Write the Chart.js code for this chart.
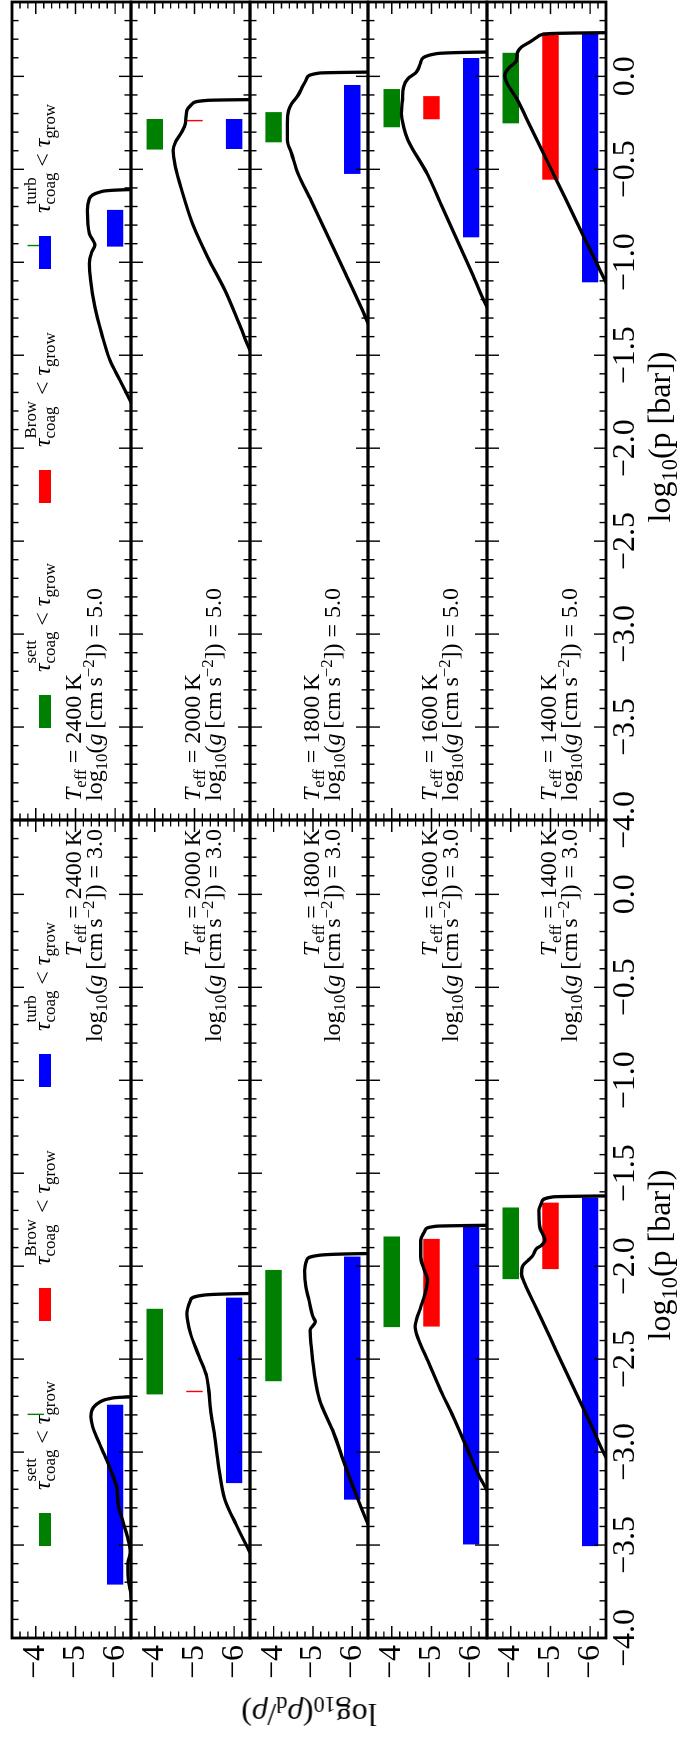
<!DOCTYPE html>
<html>
<head>
<meta charset="utf-8">
<title>Coagulation regimes</title>
<script src="https://cdn.jsdelivr.net/npm/chart.js@4.4.1/dist/chart.umd.min.js"></script>
<style>
html, body { margin:0; padding:0; background:#fff; }
body { width:678px; height:1738px; overflow:hidden; position:relative; }
#fig { position:absolute; left:0; top:0; width:1738px; height:678px; transform-origin:0 0;
       transform:translate(0px,1738px) rotate(-90deg);
       font-family:"Liberation Serif","Times New Roman",serif; color:#000; }
#fig canvas { position:absolute; }
.txt { position:absolute; white-space:nowrap; }
.txt sub, .txt sup { font-size:70%; line-height:0; position:relative; vertical-align:baseline; }
.txt sub { top:0.32em; }
.txt sup { top:-0.48em; }
.ann { font-size:24px; line-height:21px; }
.ann.r { text-align:right; }
.leg { font-size:24px; line-height:50px; }
.st { display:inline-block; vertical-align:-0.3em; font-size:70%; line-height:1.15; }
.st span { display:block; }
.patch { position:absolute; }
.xt, .yt { font-size:32px; line-height:32px; }
</style>
</head>
<body>
<div id="fig"></div>
<script>
// ---------------- data ----------------
const temperatures = [2400, 2000, 1800, 1600, 1400];
const gravities = [3.0, 5.0];
const xTickValues = [-4.0, -3.5, -3.0, -2.5, -2.0, -1.5, -1.0, -0.5, 0.0];
const yTickValues = [-4, -5, -6];
const barLevels = [-4, -5, -6];            // sett, Brow, turb
const barNames = ['sett', 'Brow', 'turb'];

// log g = 3.0 : dust-to-gas curves (log p, log rho_d/rho)
const p_g3_T2400 = [-3.85,-3.80,-3.75,-3.70,-3.65,-3.60,-3.54,-3.473,-3.383,-3.27,-3.20,-3.16,-3.043,-2.918,-2.86,-2.81,-2.76,-2.730,-2.712,-2.703,-2.700];
const r_g3_T2400 = [-6.50,-6.42,-6.39,-6.34,-6.32,-6.32,-6.38,-6.33,-6.21,-6.07,-6.05,-6.00,-5.79,-5.53,-5.43,-5.39,-5.45,-5.62,-5.87,-6.40,-7.50];
const p_g3_T2000 = [-3.60,-3.54,-3.39,-3.258,-3.079,-2.90,-2.774,-2.667,-2.595,-2.487,-2.362,-2.254,-2.183,-2.156,-2.147,-2.145];
const r_g3_T2000 = [-6.55,-6.40,-6.05,-5.77,-5.61,-5.50,-5.41,-5.36,-5.31,-5.12,-4.90,-4.81,-4.90,-5.22,-6.40,-7.50];
const p_g3_T1800 = [-3.45,-3.387,-3.231,-3.079,-2.882,-2.72,-2.416,-2.344,-2.299,-2.272,-2.183,-2.111,-2.022,-1.968,-1.941,-1.932,-1.930];
const r_g3_T1800 = [-6.55,-6.40,-6.10,-5.83,-5.50,-5.17,-4.95,-4.93,-5.06,-5.00,-4.90,-4.82,-4.79,-4.84,-5.17,-6.40,-7.50];
const p_g3_T1600 = [-3.26,-3.204,-3.133,-2.971,-2.81,-2.667,-2.505,-2.398,-2.326,-2.29,-2.219,-2.147,-2.075,-2.022,-1.95,-1.86,-1.806,-1.785,-1.780,-1.778];
const r_g3_T1600 = [-6.55,-6.40,-6.21,-5.88,-5.55,-5.23,-4.90,-4.68,-4.59,-4.62,-4.73,-4.84,-4.90,-4.82,-4.73,-4.73,-4.84,-5.12,-6.40,-7.50];
const p_g3_T1400 = [-3.08,-3.025,-2.844,-2.69,-2.536,-2.382,-2.228,-2.093,-2.04,-1.995,-1.968,-1.941,-1.905,-1.887,-1.86,-1.789,-1.699,-1.654,-1.627,-1.622,-1.620];
const r_g3_T1400 = [-6.55,-6.39,-6.00,-5.66,-5.32,-4.99,-4.65,-4.35,-4.27,-4.31,-4.44,-4.56,-4.65,-4.78,-4.86,-4.73,-4.71,-4.78,-5.07,-6.39,-7.50];

// log g = 5.0
const p_g5_T2400 = [-1.82,-1.742,-1.634,-1.527,-1.383,-1.24,-1.097,-1.007,-0.945,-0.909,-0.846,-0.72,-0.658,-0.622,-0.609,-0.606];
const r_g5_T2400 = [-6.56,-6.375,-6.12,-5.87,-5.66,-5.49,-5.38,-5.35,-5.41,-5.49,-5.35,-5.30,-5.35,-5.62,-6.375,-7.50];
const p_g5_T2000 = [-1.55,-1.473,-1.348,-1.151,-0.971,-0.792,-0.613,-0.487,-0.398,-0.353,-0.299,-0.254,-0.183,-0.147,-0.129,-0.125,-0.123];
const r_g5_T2000 = [-6.60,-6.40,-6.16,-5.77,-5.33,-4.95,-4.68,-4.52,-4.46,-4.52,-4.68,-4.77,-4.81,-4.95,-5.33,-6.40,-7.50];
const p_g5_T1800 = [-1.40,-1.33,-1.258,-1.061,-0.864,-0.667,-0.523,-0.416,-0.344,-0.254,-0.183,-0.147,-0.102,-0.057,-0.012,0.018,0.023,0.025];
const r_g5_T1800 = [-6.58,-6.405,-6.26,-5.83,-5.39,-4.95,-4.62,-4.46,-4.35,-4.35,-4.38,-4.46,-4.62,-4.73,-4.84,-5.17,-6.405,-7.50];
const p_g5_T1600 = [-1.30,-1.24,-1.061,-0.882,-0.703,-0.523,-0.344,-0.272,-0.200,-0.129,-0.057,-0.012,0.023,0.077,0.122,0.131,0.133];
const r_g5_T1600 = [-6.58,-6.40,-6.03,-5.65,-5.27,-4.89,-4.41,-4.30,-4.24,-4.27,-4.30,-4.41,-4.62,-4.73,-5.12,-6.405,-7.50];
const p_g5_T1400 = [-1.16,-1.106,-1.005,-0.857,-0.708,-0.559,-0.412,-0.263,-0.118,-0.031,0.005,0.041,0.086,0.122,0.158,0.185,0.215,0.230,0.233,0.235,0.237];
const r_g5_T1400 = [-6.52,-6.393,-6.165,-5.827,-5.49,-5.154,-4.816,-4.48,-4.143,-3.89,-3.847,-3.931,-4.143,-4.158,-4.27,-4.48,-4.69,-4.985,-5.574,-6.393,-7.50];

// pressure ranges (log p) where tau_coag < tau_grow, per Teff (null = none)
const sett_g3 = [[-2.799,-2.795],[-2.688,-2.231],[-2.617,-2.022],[-2.326,-1.842],[-2.068,-1.686]];
const brow_g3 = [null,[-2.676,-2.672],null,[-2.323,-1.855],[-2.014,-1.660]];
const turb_g3 = [[-3.711,-2.747],[-3.165,-2.171],[-3.254,-1.950],[-3.495,-1.789],[-3.504,-1.633]];
const sett_g5 = [[-0.912,-0.908],[-0.392,-0.231],[-0.353,-0.194],[-0.272,-0.070],[-0.251,0.125]];
const brow_g5 = [null,[-0.240,-0.236],null,[-0.229,-0.108],[-0.554,0.235]];
const turb_g5 = [[-0.914,-0.720],[-0.389,-0.231],[-0.523,-0.048],[-0.864,0.097],[-1.106,0.229]];

// ---------------- assembly ----------------
const curveP = [[p_g3_T2400,p_g3_T2000,p_g3_T1800,p_g3_T1600,p_g3_T1400],
                [p_g5_T2400,p_g5_T2000,p_g5_T1800,p_g5_T1600,p_g5_T1400]];
const curveR = [[r_g3_T2400,r_g3_T2000,r_g3_T1800,r_g3_T1600,r_g3_T1400],
                [r_g5_T2400,r_g5_T2000,r_g5_T1800,r_g5_T1600,r_g5_T1400]];
const barSets = [[sett_g3, brow_g3, turb_g3], [sett_g5, brow_g5, turb_g5]];

// ---------------- style / layout ----------------
const X_MIN = -4.0, X_MAX = 0.4, Y_MIN = -6.4, Y_MAX = -3.4;
const X_MINOR = 0.1, X_MAJOR = 0.5, Y_MINOR = 0.2, Y_MAJOR = 1;
const COL_X = [100, 918], COL_W = 818, ROW_TOP = 12.3, ROW_H = 118.68;
const Y_AXIS_W = 50, X_AXIS_H = 40;
const BAR_COLORS = ['#008000', '#ff0000', '#0000ff'];
const FONT = "'Liberation Serif','Times New Roman',serif";
const MINUS = '\u2212';

Chart.defaults.animation = false;
Chart.defaults.font.family = FONT;
Chart.defaults.color = '#000';

const fig = document.getElementById('fig');

const framePlugin = {
  id: 'frame',
  afterDatasetsDraw(chart) {
    const {ctx, chartArea: a, scales: {x, y}} = chart;
    ctx.save();
    ctx.strokeStyle = '#000';
    ctx.lineWidth = 1.4;
    ctx.beginPath();
    const nx = Math.round((X_MAX - X_MIN) / X_MINOR);
    for (let i = 0; i <= nx; i++) {
      const v = X_MIN + i * X_MINOR;
      const q = v / X_MAJOR;
      const len = Math.abs(q - Math.round(q)) < 1e-6 ? 12 : 6.5;
      const px = x.getPixelForValue(v);
      ctx.moveTo(px, a.top); ctx.lineTo(px, a.top + len);
      ctx.moveTo(px, a.bottom); ctx.lineTo(px, a.bottom - len);
    }
    const ny = Math.round((Y_MAX - Y_MIN) / Y_MINOR);
    for (let i = 0; i <= ny; i++) {
      const v = Y_MIN + i * Y_MINOR;
      const q = v / Y_MAJOR;
      const len = Math.abs(q - Math.round(q)) < 1e-6 ? 12 : 6.5;
      const py = y.getPixelForValue(v);
      ctx.moveTo(a.left, py); ctx.lineTo(a.left + len, py);
      ctx.moveTo(a.right, py); ctx.lineTo(a.right - len, py);
    }
    ctx.stroke();
    ctx.lineWidth = 2.8;
    ctx.strokeRect(a.left, a.top, a.right - a.left, a.bottom - a.top);
    ctx.restore();
  }
};

function fmtX(v) { return (v < 0 ? MINUS : '') + Math.abs(v).toFixed(1); }
function fmtY(v) { return (v < 0 ? MINUS : '') + Math.abs(v).toFixed(0); }

function addText(cls, html, styles) {
  const d = document.createElement('div');
  d.className = 'txt ' + cls;
  d.innerHTML = html;
  Object.assign(d.style, styles);
  fig.appendChild(d);
  return d;
}

const LEG_OFF = [92, 317, 551];
const XTITLE_SHIFT = -26;

gravities.forEach((g, c) => {
  temperatures.forEach((T, r) => {
    const areaT = Math.round(ROW_TOP + ROW_H * r);
    const areaB = Math.round(ROW_TOP + ROW_H * (r + 1));
    const areaL = COL_X[c];
    const showX = r === temperatures.length - 1;
    const showY = c === 0;
    const padL = 12 + (showY ? 55 : 0) + (showX && !showY ? 30 : 0);
    const padR = 12, padT = 12;
    const padB = 12 + (showX ? 40 : 0);

    const cv = document.createElement('canvas');
    cv.width = COL_W + padL + padR;
    cv.height = (areaB - areaT) + padT + padB;
    cv.style.left = (areaL - padL) + 'px';
    cv.style.top = (areaT - padT) + 'px';
    cv.style.width = cv.width + 'px';
    cv.style.height = cv.height + 'px';
    fig.appendChild(cv);

    const P = curveP[c][r], R = curveR[c][r];
    const linePts = P.map((p, i) => ({x: p, y: R[i]}));
    const barPts = [], barCols = [];
    barSets[c].forEach((set, k) => {
      const rng = set[r];
      if (rng) { barPts.push({x: rng, y: barLevels[k]}); barCols.push(BAR_COLORS[k]); }
    });

    const xScale = {
      type: 'linear', min: X_MIN, max: X_MAX, display: showX, position: 'bottom', offset: false,
      grid: {display: false, drawTicks: false}, border: {display: false},
      afterBuildTicks: s => { s.ticks = xTickValues.map(v => ({value: v})); },
      ticks: {autoSkip: false, maxRotation: 0, minRotation: 0, padding: 0, color: '#000',
              font: {family: FONT, size: 32, lineHeight: 1.2}, callback: v => fmtX(v)}
    };
    if (showX) xScale.afterFit = s => { s.height = X_AXIS_H; s.paddingLeft = 0; s.paddingRight = 0; };
    const yScale = {
      type: 'linear', min: Y_MIN, max: Y_MAX, display: showY, position: 'left', offset: false,
      grid: {display: false, drawTicks: false}, border: {display: false},
      afterBuildTicks: s => { s.ticks = yTickValues.map(v => ({value: v})); },
      ticks: {autoSkip: false, padding: 7, color: '#000',
              font: {family: FONT, size: 32, lineHeight: 1.2}, callback: v => fmtY(v)}
    };
    if (showY) yScale.afterFit = s => { s.width = Y_AXIS_W; s.paddingTop = 0; s.paddingBottom = 0; };

    new Chart(cv, {
      type: 'line',
      data: {
        datasets: [
          {type: 'line', data: linePts, borderColor: '#000', borderWidth: 3.3, pointRadius: 0,
           cubicInterpolationMode: 'monotone', fill: false, clip: 0, order: 0},
          {type: 'bar', indexAxis: 'y', data: barPts, backgroundColor: barCols, borderWidth: 0,
           barThickness: 15.8, clip: 0, order: 1}
        ]
      },
      options: {
        responsive: false, animation: false, events: [],
        layout: {padding: {left: padL - (showY ? Y_AXIS_W : 0), right: padR, top: padT,
                           bottom: padB - (showX ? X_AXIS_H : 0)}},
        plugins: {legend: {display: false}, tooltip: {enabled: false}},
        scales: {x: xScale, y: yScale}
      },
      plugins: [framePlugin]
    });

    // panel annotation
    const annHtml = `<div><i>T</i><sub>eff</sub> = ${T}&#8201;K</div>` +
      `<div>log<sub>10</sub>(<i>g</i>&#8201;[cm&#8201;s<sup>${MINUS}2</sup>]) = ${g.toFixed(1)}</div>`;
    if (c === 0) addText('ann r', annHtml, {right: (1738 - 909) + 'px', top: (areaT + 51) + 'px'});
    else addText('ann', annHtml, {left: '937px', top: (areaT + 51) + 'px'});

    // legend in top panel
    if (r === 0) {
      barNames.forEach((nm, k) => {
        const p = document.createElement('div');
        p.className = 'patch';
        Object.assign(p.style, {left: (COL_X[c] + LEG_OFF[k]) + 'px', top: (areaT + 27) + 'px',
                                width: '33px', height: '12px', background: BAR_COLORS[k]});
        fig.appendChild(p);
        addText('leg', `<i>τ</i><span class="st"><span>${nm}</span><span>coag</span></span> &lt; <i>τ</i><sub>grow</sub>`,
                {left: (COL_X[c] + LEG_OFF[k] + 56) + 'px', top: (areaT + 5) + 'px'});
      });
    }
  });
  // x axis title for each column
  addText('xt', 'log<sub>10</sub>(p [bar])', {left: (COL_X[c] + COL_W / 2 + XTITLE_SHIFT) + 'px', top: '643px',
                                               transform: 'translateX(-50%)'});
});

// y axis title
addText('yt', 'log<sub>10</sub>(<i>ρ</i><sub>d</sub>/<i>ρ</i>)',
        {left: '23px', top: '309px', transform: 'translate(-50%,-50%) rotate(-90deg)'});
</script>
</body>
</html>
